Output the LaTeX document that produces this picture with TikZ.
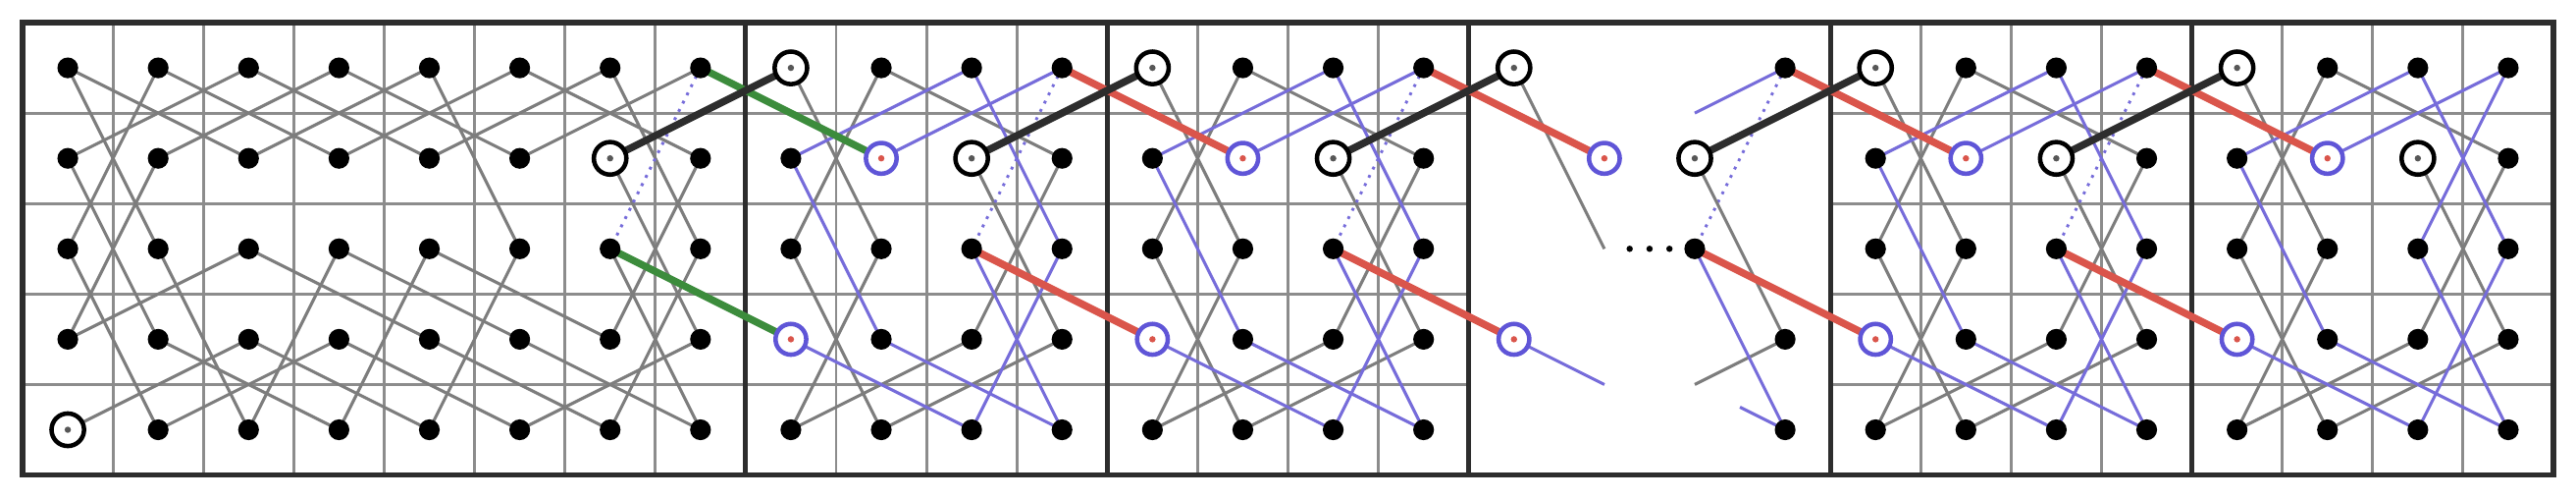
\documentclass[tikz,border=0pt]{standalone}
\begin{document}
\definecolor{edgegray}{RGB}{125,125,125}
\definecolor{gridgray}{RGB}{140,140,140}
\definecolor{pathblue}{RGB}{118,108,218}
\definecolor{ringblue}{RGB}{95,85,215}
\definecolor{linkred}{RGB}{218,85,75}
\definecolor{linkgreen}{RGB}{60,140,60}
\definecolor{framegray}{RGB}{45,45,45}
\tikzset{
  gridline/.style={draw=gridgray,line width=0.9pt},
  frameline/.style={draw=framegray,line width=1.6pt},
  gedge/.style={draw=edgegray,line width=0.95pt},
  bedge/.style={draw=pathblue,line width=0.95pt},
  dotedge/.style={draw=pathblue,line width=0.9pt,dotted},
  redlink/.style={draw=linkred,line width=2.3pt},
  greenlink/.style={draw=linkgreen,line width=2.3pt},
  blacklink/.style={draw=framegray,line width=2.3pt},
  dotmark/.style={circle,fill=black,inner sep=0pt,minimum size=0.23cm},
  blackring/.style={circle,draw=black,line width=1.4pt,inner sep=0pt,minimum size=0.36cm},
  bluering/.style={circle,draw=ringblue,line width=1.4pt,inner sep=0pt,minimum size=0.34cm},
  tinydot/.style={circle,fill=black,inner sep=0pt,minimum size=0.07cm}
}
\newcommand\knightblock[2]{%
  \pgfmathtruncatemacro\ka{#1}\pgfmathtruncatemacro\kb{#1+1}%
  \pgfmathtruncatemacro\kc{#1+2}\pgfmathtruncatemacro\kd{#1+3}%
  \draw[gedge] (p-\ka-0)--(p-\kb-2)--(p-\ka-4)--(p-\kc-3)--(p-\kd-1)--(p-\kb-0)--(p-\ka-2)--(p-\kb-4)--(p-\kd-3)--(p-\kc-1);
  \draw[bedge] (p-\kb-1)--(p-\kd-0);
  \draw[bedge] (p-\kc-2)--(p-\kd-4)--(p-\kb-3)--(p-\ka-1)--(p-\kc-0)--(p-\kd-2)--(p-\kc-4)--(p-\ka-3);
  \draw[#2] (p-\kd-0)--(p-\kc-2);
}
\begin{tikzpicture}[x=1cm,y=1cm]
\useasboundingbox (-0.75,-4.755) rectangle (27.75,0.75);
\foreach \c in {0,...,27}{\foreach \r in {0,...,4}{\coordinate (p-\c-\r) at (\c,-\r);}}
% grid
\foreach \x in {0.5,1.5,...,6.5,8.5,9.5,10.5,12.5,13.5,14.5,20.5,21.5,22.5,24.5,25.5,26.5}
  \draw[gridline] (\x,0.5)--(\x,-4.5);
\foreach \y in {-0.5,-1.5,-2.5,-3.5}{
  \draw[gridline] (-0.5,\y)--(15.5,\y);
  \draw[gridline] (19.5,\y)--(27.5,\y);}
\foreach \x in {7.5,11.5,15.5,19.5,23.5}
  \draw[frameline] (\x,0.5)--(\x,-4.5);
\draw[frameline] (-0.5,0.5) rectangle (27.5,-4.5);
% block 1
\draw[gedge] (p-0-0)--(p-2-1)--(p-4-0)--(p-5-2)--(p-4-4)--(p-2-3)--(p-0-4);
\draw[gedge] (p-0-0)--(p-1-2)--(p-2-4)--(p-3-2)--(p-5-3)--(p-7-4)--(p-6-2);
\draw[gedge] (p-1-0)--(p-3-1)--(p-5-0)--(p-7-1)--(p-6-3)--(p-4-2)--(p-3-4)--(p-1-3)--(p-0-1)--(p-2-0)--(p-4-1)--(p-6-0)--(p-7-2)--(p-6-4)--(p-4-3)--(p-2-2)--(p-0-3)--(p-1-1)--(p-3-0)--(p-5-1)--(p-7-0);
\draw[gedge] (p-1-0)--(p-0-2)--(p-1-4)--(p-3-3)--(p-5-4)--(p-7-3)--(p-6-1);
\draw[dotedge] (p-7-0)--(p-6-2);
% blocks 2,3,5,6
\knightblock{8}{dotedge}
\knightblock{12}{dotedge}
\knightblock{20}{dotedge}
\knightblock{24}{bedge}
% block 4 (partial)
\coordinate (q1) at (17,-3.5);
\coordinate (q2) at (18,-0.5);
\coordinate (q3) at (18,-3.5);
\coordinate (q4) at (18.5,-3.75);
\draw[gedge] (p-16-0)--(p-17-2);
\draw[bedge] (p-16-3)--(q1);
\draw[bedge] (p-19-0)--(q2);
\draw[dotedge] (p-19-0)--(p-18-2);
\draw[gedge] (p-18-1)--(p-19-3)--(q3);
\draw[bedge] (p-18-2)--(p-19-4)--(q4);
\node[tinydot] (el1) at (17.28,-2) {};
\node[tinydot] (el2) at (17.5,-2) {};
\node[tinydot] (el3) at (17.72,-2) {};
% links between blocks
\draw[greenlink] (p-7-0)--(p-9-1);
\draw[greenlink] (p-6-2)--(p-8-3);
\foreach \s in {11,15,19,23}{
  \pgfmathtruncatemacro\t{\s+2}\pgfmathtruncatemacro\u{\s-1}\pgfmathtruncatemacro\v{\s+1}
  \draw[redlink] (p-\s-0)--(p-\t-1);
  \draw[redlink] (p-\u-2)--(p-\v-3);}
\foreach \s in {6,10,14,18,22}{
  \pgfmathtruncatemacro\t{\s+2}
  \draw[blacklink] (p-\s-1)--(p-\t-0);}
% marks
\foreach \c in {0,...,15,20,21,22,23,24,25,26,27}{\foreach \r in {0,...,4}{
  \node[dotmark] (d-\c-\r) at (p-\c-\r) {};}}
\foreach \c/\r in {18/2,19/0,19/3,19/4}{\node[dotmark] (d-\c-\r) at (p-\c-\r) {};}
\foreach \c/\r in {0/4,6/1,8/0,10/1,12/0,14/1,16/0,18/1,20/0,22/1,24/0,26/1}{
  \node[blackring,fill=white] (k-\c-\r) at (p-\c-\r) {};
  \node[tinydot,fill=framegray!80] at (p-\c-\r) {};}
\foreach \c/\r in {9/1,8/3,13/1,12/3,17/1,16/3,21/1,20/3,25/1,24/3}{
  \node[bluering,fill=white] (b-\c-\r) at (p-\c-\r) {};
  \node[tinydot,fill=linkred] at (p-\c-\r) {};}
\end{tikzpicture}
\end{document}
